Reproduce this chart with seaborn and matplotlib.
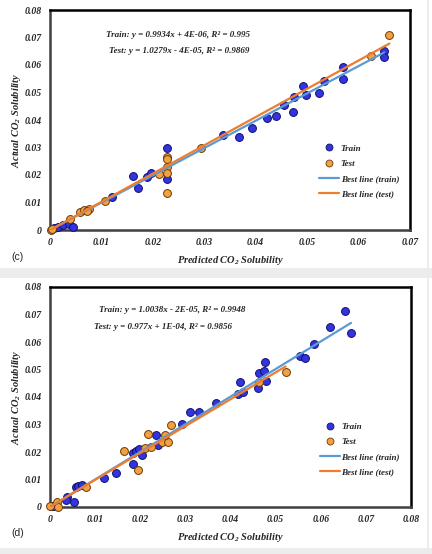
import numpy as np
import pandas as pd
import matplotlib
matplotlib.use("Agg")
import matplotlib.pyplot as plt
from matplotlib.lines import Line2D
from matplotlib.patches import Rectangle
import seaborn as sns

# ---------------- data ----------------
# panel (c)
c_train_x = [0.0008, 0.0016, 0.0026, 0.0036, 0.0045, 0.0120, 0.0162, 0.0172, 0.0188, 0.0196,
             0.0227, 0.0227, 0.0337, 0.0367, 0.0392, 0.0421, 0.0439, 0.0455, 0.0473, 0.0474,
             0.0491, 0.0497, 0.0524, 0.0532, 0.0569, 0.0569, 0.0650, 0.0650]
c_train_y = [0.0006, 0.0012, 0.0018, 0.0022, 0.0012, 0.0121, 0.0198, 0.0152, 0.0194, 0.0206,
             0.0297, 0.0184, 0.0345, 0.0339, 0.0370, 0.0406, 0.0415, 0.0455, 0.0430, 0.0485,
             0.0524, 0.0491, 0.0497, 0.0542, 0.0592, 0.0548, 0.0651, 0.0630]
c_test_x = [0.0002, 0.0004, 0.0039, 0.0058, 0.0067, 0.0075, 0.0071, 0.0107, 0.0211, 0.0227,
            0.0227, 0.0227, 0.0227, 0.0227, 0.0293, 0.0625, 0.0660]
c_test_y = [0.0000, 0.0003, 0.0040, 0.0067, 0.0073, 0.0075, 0.0069, 0.0107, 0.0203, 0.0267,
            0.0258, 0.0230, 0.0206, 0.0133, 0.0300, 0.0633, 0.0710]
c_fit_train = (0.9934, 4e-06)
c_fit_test = (1.0279, -4e-05)
c_eq_train = "Train: y = 0.9934x + 4E-06, R² = 0.995"
c_eq_test = "Test: y = 1.0279x - 4E-05, R² = 0.9869"
c_xticks = [0, 0.01, 0.02, 0.03, 0.04, 0.05, 0.06, 0.07]

# panel (d)
d_train_x = [0.0003, 0.0008, 0.0037, 0.0035, 0.0054, 0.0057, 0.0063, 0.0070, 0.0120, 0.0146,
             0.0183, 0.0185, 0.0190, 0.0198, 0.0203, 0.0235, 0.0240, 0.0293, 0.0310, 0.0331,
             0.0368, 0.0416, 0.0427, 0.0421, 0.0460, 0.0464, 0.0475, 0.0477, 0.0479, 0.0553,
             0.0564, 0.0584, 0.0621, 0.0653, 0.0667]
d_train_y = [0.0002, 0.0005, 0.0037, 0.0025, 0.0019, 0.0072, 0.0076, 0.0080, 0.0104, 0.0122,
             0.0155, 0.0195, 0.0205, 0.0210, 0.0189, 0.0262, 0.0225, 0.0301, 0.0347, 0.0345,
             0.0377, 0.0411, 0.0417, 0.0456, 0.0432, 0.0486, 0.0495, 0.0526, 0.0458, 0.0550,
             0.0543, 0.0593, 0.0653, 0.0714, 0.0632]
d_test_x = [0.0000, 0.0015, 0.0018, 0.0079, 0.0164, 0.0194, 0.0211, 0.0224, 0.0218, 0.0249,
            0.0261, 0.0255, 0.0268, 0.0464, 0.0522]
d_test_y = [0.0004, 0.0019, 0.0000, 0.0072, 0.0205, 0.0135, 0.0216, 0.0219, 0.0264, 0.0238,
            0.0235, 0.0262, 0.0298, 0.0456, 0.0492]
d_fit_train = (1.0038, -2e-05)
d_fit_test = (0.977, 1e-04)
d_eq_train = "Train: y = 1.0038x - 2E-05, R² = 0.9948"
d_eq_test = "Test: y = 0.977x + 1E-04, R² = 0.9856"
d_xticks = [0, 0.01, 0.02, 0.03, 0.04, 0.05, 0.06, 0.07, 0.08]

yticks = [0, 0.01, 0.02, 0.03, 0.04, 0.05, 0.06, 0.07, 0.08]

# ---------------- style ----------------
sns.set_style("white")
plt.rcParams["font.family"] = ["Liberation Serif", "DejaVu Serif"]
plt.rcParams["mathtext.fontset"] = "custom"
plt.rcParams["mathtext.rm"] = "Liberation Serif:bold:italic"
plt.rcParams["mathtext.it"] = "Liberation Serif:bold:italic"

TRAIN_FILL = "#3333e0"
TRAIN_EDGE = "#10106a"
TEST_FILL = "#f5a040"
TEST_EDGE = "#6a3a08"
LINE_TRAIN = "#5b9bd5"
LINE_TEST = "#ed7d31"
FONT = dict(family="Liberation Serif", weight="bold", style="italic")

W, H = 432, 554
fig = plt.figure(figsize=(W / 100, H / 100), dpi=100)
fig.patch.set_facecolor("white")

# light grey separators of the screenshot composition
for (x0, y0, w, h) in [(0, 268, 432, 10), (0, 548, 432, 6), (427, 0, 2, 554)]:
    fig.add_artist(Rectangle((x0 / W, 1 - (y0 + h) / H), w / W, h / H,
                             transform=fig.transFigure, facecolor="#ececec",
                             edgecolor="none", zorder=0))


def px_axes(left, top, right, bottom):
    return fig.add_axes([left / W, 1 - bottom / H, (right - left) / W, (bottom - top) / H])


def draw_panel(ax, trx, try_, tex, tey, fit_tr, fit_te, eq_tr, eq_te, eq_pos, xticks, xmax,
               leg_anchor):
    df_tr = pd.DataFrame({"x": trx, "y": try_})
    df_te = pd.DataFrame({"x": tex, "y": tey})
    sns.scatterplot(data=df_tr, x="x", y="y", ax=ax, color=TRAIN_FILL, edgecolor=TRAIN_EDGE,
                    linewidth=0.7, s=32, zorder=3, clip_on=False)
    sns.scatterplot(data=df_te, x="x", y="y", ax=ax, color=TEST_FILL, edgecolor=TEST_EDGE,
                    linewidth=0.7, s=32, zorder=4, clip_on=False)
    # best-fit lines from the stated coefficients across each set's x range
    for xs, (m, b), col in [(trx, fit_tr, LINE_TRAIN), (tex, fit_te, LINE_TEST)]:
        xr = np.array([min(xs), max(xs)])
        sns.lineplot(x=xr, y=m * xr + b, ax=ax, color=col, linewidth=1.6, zorder=5)

    ax.set_xlim(0, xmax)
    ax.set_ylim(0, 0.08)
    ax.set_xticks(xticks)
    ax.set_yticks(yticks)
    ax.set_xticklabels(["0" if t == 0 else f"{t:g}" for t in xticks], fontsize=7, **FONT)
    ax.set_yticklabels(["0" if t == 0 else f"{t:g}" for t in yticks], fontsize=7, **FONT)
    ax.tick_params(length=0, pad=6)
    ax.set_xlabel(r"Predicted CO$_2$ Solubility", fontsize=7.5, labelpad=5, **FONT)
    ax.set_ylabel(r"Actual CO$_2$ Solubility", fontsize=7.5, labelpad=1, **FONT)
    for s in ax.spines.values():
        s.set_visible(True)
        s.set_color("black")
        s.set_linewidth(1.8)
        s.set_zorder(2)
    ax.spines["left"].set_color("#404040")
    ax.spines["bottom"].set_color("#404040")

    ax.text(eq_pos[0][0], eq_pos[0][1], eq_tr, transform=ax.transAxes, fontsize=6.5,
            ha="left", va="center", **FONT)
    ax.text(eq_pos[1][0], eq_pos[1][1], eq_te, transform=ax.transAxes, fontsize=6.5,
            ha="left", va="center", **FONT)

    handles = [
        Line2D([], [], linestyle="none", marker="o", markersize=5, markerfacecolor=TRAIN_FILL,
               markeredgecolor=TRAIN_EDGE, markeredgewidth=0.6),
        Line2D([], [], linestyle="none", marker="o", markersize=5, markerfacecolor=TEST_FILL,
               markeredgecolor=TEST_EDGE, markeredgewidth=0.6),
        Line2D([], [], color=LINE_TRAIN, linewidth=1.6),
        Line2D([], [], color=LINE_TEST, linewidth=1.6),
    ]
    labels = ["Train", "Test", "Best line (train)", "Best line (test)"]
    ax.legend(handles, labels, loc="upper left", bbox_to_anchor=leg_anchor,
              frameon=False, borderpad=0, handlelength=2.2, handletextpad=0.2,
              labelspacing=0.75, prop=dict(family="Liberation Serif", weight="bold",
                                           style="italic", size=6.5))
    return ax


ax1 = px_axes(50, 10, 410, 230)
draw_panel(ax1, c_train_x, c_train_y, c_test_x, c_test_y, c_fit_train, c_fit_test,
           c_eq_train, c_eq_test, [(0.156, 0.886), (0.164, 0.814)], c_xticks, 0.07,
           (0.735, 0.41))

ax2 = px_axes(50, 287, 411, 507)
draw_panel(ax2, d_train_x, d_train_y, d_test_x, d_test_y, d_fit_train, d_fit_test,
           d_eq_train, d_eq_test, [(0.136, 0.895), (0.122, 0.818)], d_xticks, 0.08,
           (0.735, 0.405))

fig.text(11 / W, 1 - 257 / H, "(c)", fontsize=7.5, family="Liberation Sans", va="center")
fig.text(11 / W, 1 - 533 / H, "(d)", fontsize=7.5, family="Liberation Sans", va="center")

fig.savefig("out.png", dpi=100)
